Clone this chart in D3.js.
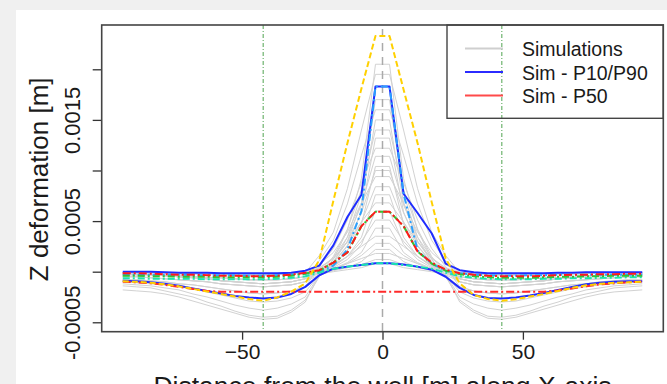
<!DOCTYPE html>
<html><head><meta charset="utf-8">
<script src="https://cdn.jsdelivr.net/npm/d3@7"></script>
<style>
html,body{margin:0;padding:0;background:#f0f0f0;}
svg{display:block;}
text{font-family:"Liberation Sans",Arial,Helvetica,sans-serif;fill:#1a1a1a;}
</style></head>
<body>
<svg id="c" width="667" height="384"></svg>
<script>
// Distance from well [m]
const xs = [-92.5,-87.5,-82.5,-77.5,-72.5,-67.5,-62.5,-57.5,-52.5,-47.5,-42.5,-37.5,-32.5,-27.5,-22.5,-17.5,-12.5,-7.5,-2.5,
            2.5,7.5,12.5,17.5,22.5,27.5,32.5,37.5,42.5,47.5,52.5,57.5,62.5,67.5,72.5,77.5,82.5,87.5,92.5];
// All Z deformation values below are in units of 1e-5 m
const simP90 = [0,0,0,-0.5,-1,-1,-1,-1.5,-1.5,-1.5,-1.5,-1.5,-1,1,6,26,54,76,183, 183,77,58,38,8,1.5,-0.5,-1.5,-1.5,-1.5,-1.5,-1.5,-1,-1,-0.5,-0.5,-0.5,-0.5,-0.5];
const simP10 = [-9,-9.5,-10.5,-12,-14,-16.5,-19,-21.5,-24,-25.5,-26.5,-25.5,-22,-15,-3.5,3,5,6.5,8.3, 8.3,7,5,2,-5,-16,-23,-26,-26.5,-25.5,-23.5,-21,-18,-15,-12.5,-11,-10,-9.5,-9.5];
const simP50 = [-1.5,-1.5,-2,-2.5,-3,-3,-3.5,-4,-4,-4.5,-4.5,-4,-3,-1,1.5,9,19,45,59.3, 59.3,45,20,9,2,-1.5,-3,-4,-4.5,-4.5,-4.5,-4,-3.5,-3,-3,-2.5,-2.5,-2,-2];
const refYellow = [-9.5,-10,-11,-12.5,-14.5,-17,-19.5,-22,-24.5,-27,-28.7,-25.4,-19.8,-11.5,11.5,70,127,181,233, 233,180,127,69,13,-11.5,-23,-27,-28.7,-27.3,-24.5,-22,-19,-16,-13.5,-12,-11,-10.5,-10];
const refGreen = [-4,-4,-4.5,-4.5,-5,-5,-5,-5.5,-5.5,-5.5,-5.5,-5,-4,-2,1,9,19,45,59.3, 59.3,45,20,8,1,-2.5,-4.5,-5.5,-6,-6,-6,-5.5,-5,-5,-4.5,-4.5,-4,-4,-4];
const refCyan = [-3,-3,-3,-3,-3,-3.5,-3.5,-3.5,-3.5,-4,-4,-3.5,-3,-2,0,6,22,60,183, 183,77,21,8,1,-1.5,-3,-3.5,-4,-4,-3.5,-3.5,-3,-3,-3,-3,-3,-3,-3];
const refSpring = [-6.5,-6.5,-7,-7,-7,-7,-7.5,-7.5,-7.5,-7.5,-7.5,-7,-6,-4.5,-1,3,5,6.6,8.3, 8.3,6.6,5,3,-1,-4.5,-6,-7,-7.5,-7.5,-7.5,-7,-7,-6.5,-6.5,-6,-6,-5.5,-5.5];
const refRedLow = [-10,-10.5,-11.5,-13,-15,-17,-19,-19.8,-19.8,-19.8,-19.8,-19.8,-19.8,-19.8,-19.8,-19.8,-19.8,-19.8,-19.8, -19.8,-19.8,-19.8,-19.8,-19.8,-19.8,-19.8,-19.8,-19.8,-19.8,-19.8,-19.8,-18.5,-16.5,-14.5,-12.5,-11.5,-10.5,-10];

const sims = [
 [-12,-13,-14,-16,-18,-22,-25,-29,-33,-36,-38,-36,-32,-25,-3,12,41,92,205,205,92,41,12,-3,-25,-32,-36,-38,-36,-33,-29,-25,-22,-18,-16,-14,-13,-12],
 [-1,-1,-1,-1,-2,-2,-2,-2,-3,-3,-3,-3,-2,-1,16,39,82,140,195,195,140,82,39,16,-1,-2,-3,-3,-3,-3,-2,-2,-2,-2,-1,-1,-1,-1],
 [-14,-15,-16,-19,-22,-25,-30,-34,-39,-43,-45,-44,-38,-28,-5,9,34,77,170,170,77,34,9,-5,-28,-38,-44,-45,-43,-39,-34,-30,-25,-22,-19,-16,-15,-14],
 [-2,-2,-3,-4,-5,-6,-7,-9,-10,-11,-12,-11,-10,-7,11,31,67,115,160,160,115,67,31,11,-7,-10,-11,-12,-11,-10,-9,-7,-6,-5,-4,-3,-2,-2],
 [-5,-5,-6,-7,-8,-9,-10,-12,-13,-14,-15,-14,-13,-10,0,10,30,68,150,150,68,30,10,0,-10,-13,-14,-15,-14,-13,-12,-10,-9,-8,-7,-6,-5,-5],
 [-18,-19,-20,-22,-25,-29,-33,-37,-41,-45,-47,-46,-40,-30,-3,15,42,81,140,140,81,42,15,-3,-30,-40,-46,-47,-45,-41,-37,-33,-29,-25,-22,-20,-19,-18],
 [-1,-1,-1,-1,-2,-2,-2,-2,-3,-3,-3,-3,-2,-1,3,9,26,59,132,132,59,26,9,3,-1,-2,-3,-3,-3,-3,-2,-2,-2,-2,-1,-1,-1,-1],
 [-8,-8,-9,-10,-12,-13,-15,-17,-19,-21,-22,-21,-19,-15,5,23,51,88,122,122,88,51,23,5,-15,-19,-21,-22,-21,-19,-17,-15,-13,-12,-10,-9,-8,-8],
 [-3,-3,-3,-4,-4,-5,-6,-6,-7,-8,-8,-8,-7,-5,3,14,34,66,114,114,66,34,14,3,-5,-7,-8,-8,-8,-7,-6,-6,-5,-4,-4,-3,-3,-3],
 [-2,-2,-3,-4,-5,-6,-7,-9,-10,-11,-12,-11,-10,-7,0,6,21,47,104,104,47,21,6,0,-7,-10,-11,-12,-11,-10,-9,-7,-6,-5,-4,-3,-2,-2],
 [-1,-1,-1,-1,-2,-2,-2,-2,-3,-3,-3,-3,-2,-1,7,19,39,68,94,94,68,39,19,7,-1,-2,-3,-3,-3,-3,-2,-2,-2,-2,-1,-1,-1,-1],
 [-10,-11,-12,-13,-15,-17,-20,-23,-26,-29,-30,-29,-26,-20,-3,9,25,49,84,84,49,25,9,-3,-20,-26,-29,-30,-29,-26,-23,-20,-17,-15,-13,-12,-11,-10],
 [-3,-3,-3,-4,-4,-5,-6,-6,-7,-8,-8,-8,-7,-5,0,5,15,34,76,76,34,15,5,0,-5,-7,-8,-8,-8,-7,-6,-6,-5,-4,-4,-3,-3,-3],
 [-2,-2,-3,-4,-5,-6,-7,-9,-10,-11,-12,-11,-10,-7,3,13,29,49,68,68,49,29,13,3,-7,-10,-11,-12,-11,-10,-9,-7,-6,-5,-4,-3,-2,-2],
 [-1,-1,-1,-1,-2,-2,-2,-2,-3,-3,-3,-3,-2,-1,2,7,15,30,51,51,30,15,7,2,-1,-2,-3,-3,-3,-3,-2,-2,-2,-2,-1,-1,-1,-1],
 [-1,-1,-1,-1,-2,-2,-2,-2,-3,-3,-3,-3,-2,-1,1,3,9,19,43,43,19,9,3,1,-1,-2,-3,-3,-3,-3,-2,-2,-2,-2,-1,-1,-1,-1],
 [-5,-5,-6,-7,-8,-9,-10,-12,-13,-14,-15,-14,-13,-10,0,6,15,25,35,35,25,15,6,0,-10,-13,-14,-15,-14,-13,-12,-10,-9,-8,-7,-6,-5,-5],
 [-8,-8,-9,-10,-12,-13,-15,-17,-19,-21,-22,-21,-19,-15,-4,2,8,16,28,28,16,8,2,-4,-15,-19,-21,-22,-21,-19,-17,-15,-13,-12,-10,-9,-8,-8],
 [-1,-1,-1,-1,-2,-2,-2,-2,-3,-3,-3,-3,-2,-1,0,2,4,10,22,22,10,4,2,0,-1,-2,-3,-3,-3,-3,-2,-2,-2,-2,-1,-1,-1,-1],
 [-3,-3,-3,-4,-4,-5,-6,-6,-7,-8,-8,-8,-7,-5,0,3,8,13,18,18,13,8,3,0,-5,-7,-8,-8,-8,-7,-6,-6,-5,-4,-4,-3,-3,-3],
 [-5,-5,-6,-7,-8,-9,-10,-12,-13,-14,-15,-14,-13,-10,-3,1,4,7,12,12,7,4,1,-3,-10,-13,-14,-15,-14,-13,-12,-10,-9,-8,-7,-6,-5,-5],
 [-2,-2,-3,-4,-5,-6,-7,-9,-10,-11,-12,-11,-10,-7,-2,0,2,4,8,8,4,2,0,-2,-7,-10,-11,-12,-11,-10,-9,-7,-6,-5,-4,-3,-2,-2],
 [-1,-1,-1,-1,-2,-2,-2,-2,-3,-3,-3,-3,-2,-1,4,13,30,58,100,100,58,30,13,4,-1,-2,-3,-3,-3,-3,-2,-2,-2,-2,-1,-1,-1,-1],
 [-3,-3,-3,-4,-4,-5,-6,-6,-7,-8,-8,-8,-7,-5,0,4,12,27,60,60,27,12,4,0,-5,-7,-8,-8,-8,-7,-6,-6,-5,-4,-4,-3,-3,-3]
];
const xTicks = [-50, 0, 50];
const yTicks = [-0.0005, 0, 0.0005, 0.001, 0.0015, 0.002];
const yTickLabels = ["-0.0005", "", "0.0005", "", "0.0015", ""];
const vLinesGreen = [-42.5, 42.5];
const legendLabels = ["Simulations", "Sim - P10/P90", "Sim - P50"];
const legendColors = ["#cfcfcf", "#2b2bff", "#ff4a4a"];

const svg = d3.select("#c");
svg.append("rect").attr("x",16).attr("y",10).attr("width",651).attr("height",374).attr("fill","#fff");

const L=101.7, R=663.3, T=25, B=331.7;
const x = d3.scaleLinear().domain([-100,100]).range([L,R]);
const y = d3.scaleLinear().domain([-0.000593,0.0024377]).range([B,T]);
const line = d3.line().x((d,i)=>x(xs[i])).y(d=>y(d*1e-5));

const g = svg.append("g");
// simulations
g.selectAll(".sim").data(sims).enter().append("path")
 .attr("d",line).attr("fill","none").attr("stroke","#d2d2d2").attr("stroke-width",1);

// vertical reference lines
g.append("line").attr("x1",x(0)).attr("x2",x(0)).attr("y1",T+4).attr("y2",B)
 .attr("stroke","#aaaaaa").attr("stroke-width",1.5).attr("stroke-dasharray","8,6");
g.selectAll(".vg").data(vLinesGreen).enter().append("line")
 .attr("x1",d=>x(d)).attr("x2",d=>x(d)).attr("y1",T).attr("y2",B)
 .attr("stroke","#4fa34f").attr("stroke-width",1).attr("stroke-dasharray","4,2,1,2");

function draw(arr,color,w,dash){
  const p=g.append("path").datum(arr).attr("d",line).attr("fill","none")
   .attr("stroke",color).attr("stroke-width",w).attr("stroke-linejoin","round");
  if(dash) p.attr("stroke-dasharray",dash);
}
draw(simP90,"#1f2cff",2);
draw(simP10,"#1f2cff",2);
draw(refCyan,"#2aa0ff",2,"7,3,2,3");
draw(refSpring,"#19e6b0",2,"7,3,2,3");
draw(refGreen,"#33c433",2,"7,3,2,3");
draw(simP50,"#ff1a1a",2,"8,3,2,3");
draw(refRedLow,"#ff2a2a",2,"8,3,2,3");
draw(refYellow,"#ffd000",2,"6,3");

// axes
const ax = svg.append("g").attr("transform",`translate(0,${B})`)
 .call(d3.axisBottom(x).tickValues(xTicks).tickSize(8).tickPadding(4).tickFormat(d3.format("d")));
ax.select(".domain").remove();
ax.selectAll("line").attr("stroke","#333").attr("stroke-width",1.3);
ax.selectAll("text").attr("font-size","21px").attr("fill","#1a1a1a").attr("y",null).attr("dy",null)
  .attr("transform","translate(0,27.5)");

const ay = svg.append("g").attr("transform",`translate(${L},0)`)
 .call(d3.axisLeft(y).tickValues(yTicks).tickSize(9).tickFormat((d,i)=>yTickLabels[i]));
ay.select(".domain").remove();
ay.selectAll("line").attr("stroke","#333").attr("stroke-width",1.3);
ay.selectAll("text").attr("font-size","22px").attr("fill","#1a1a1a")
  .attr("x",null).attr("dy",null).attr("text-anchor","middle")
  .attr("transform","translate(-21.5,0) rotate(-90)");

// box
svg.append("rect").attr("x",L).attr("y",T).attr("width",R-L).attr("height",B-T)
 .attr("fill","none").attr("stroke","#444").attr("stroke-width",1.6);

// axis titles
svg.append("text").attr("x",(L+R)/2).attr("y",395).attr("text-anchor","middle")
 .attr("font-size","26.5px").text("Distance from the well [m] along X-axis");
svg.append("text").attr("transform",`translate(48,${(T+B)/2+1}) rotate(-90)`).attr("text-anchor","middle")
 .attr("font-size","26px").text("Z deformation [m]");

// legend
const lg = svg.append("g");
lg.append("rect").attr("x",447).attr("y",T).attr("width",R-447).attr("height",93.3)
 .attr("fill","none").attr("stroke","#444").attr("stroke-width",1.4);
const rows = lg.selectAll(".row").data(legendLabels).enter().append("g")
 .attr("transform",(d,i)=>`translate(0,${48.5+i*23.5})`);
rows.append("line").attr("x1",465).attr("x2",503).attr("y1",0).attr("y2",0)
 .attr("stroke",(d,i)=>legendColors[i]).attr("stroke-width",2);
rows.append("text").attr("x",522).attr("y",7.5).attr("font-size","19.5px").text(d=>d);
</script>
</body></html>
